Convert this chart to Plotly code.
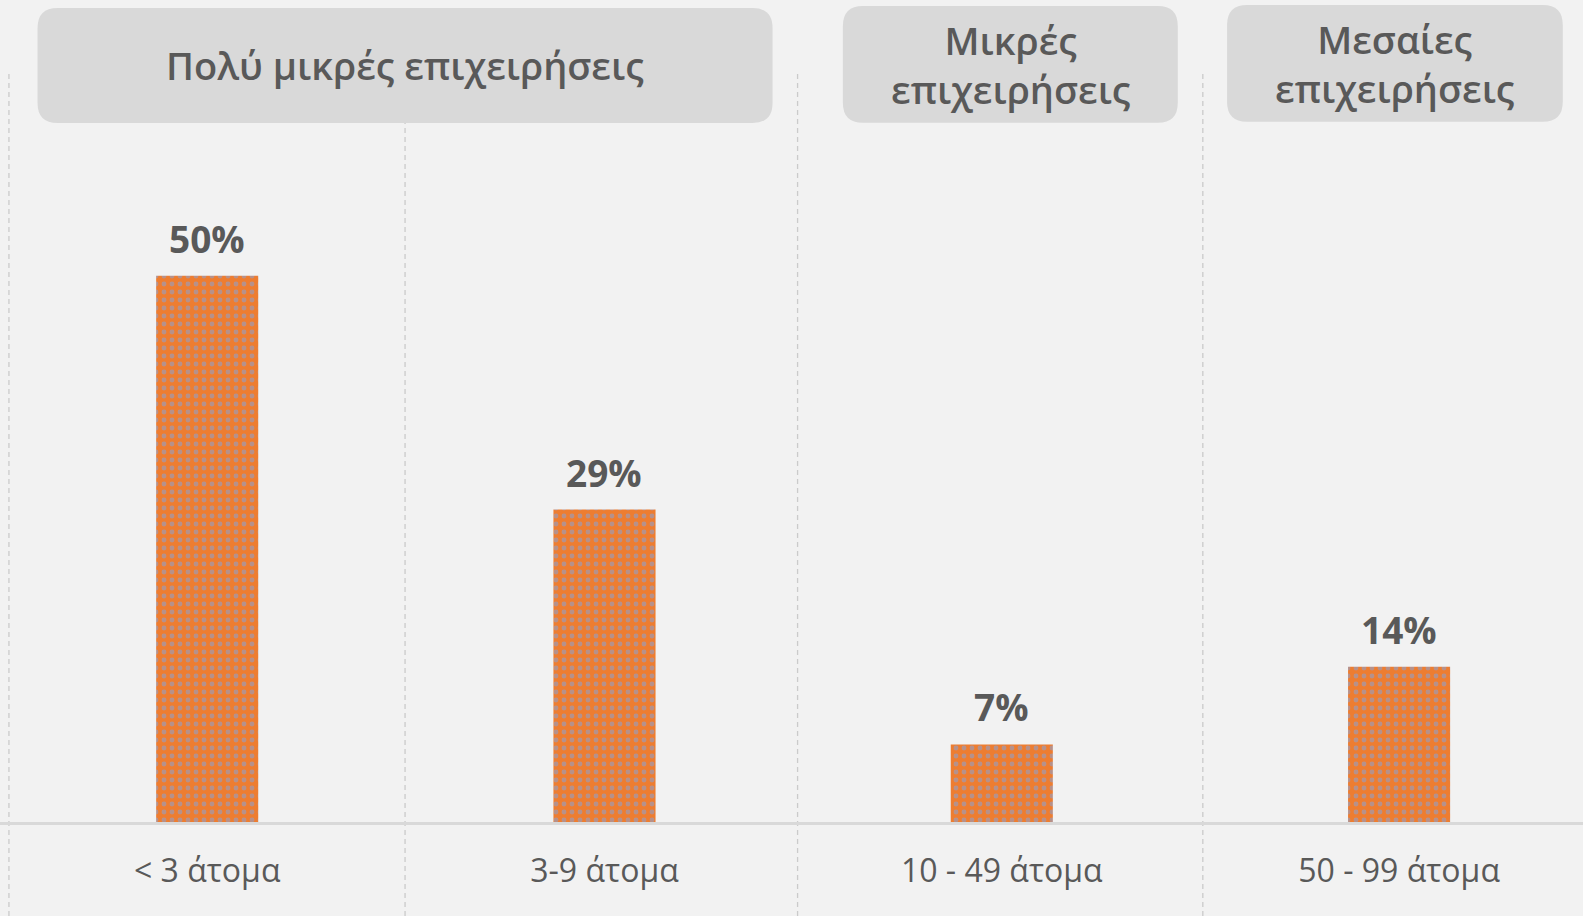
import plotly.graph_objects as go

# ---- data ----
categories = ["< 3 άτομα", "3-9 άτομα", "10 - 49 άτομα", "50 - 99 άτομα"]
shares = [50.0, 28.6, 7.1, 14.2]          # percent
labels = ["50%", "29%", "7%", "14%"]
group_names = ["Πολύ μικρές επιχειρήσεις", "Μικρές<br>επιχειρήσεις", "Μεσαίες<br>επιχειρήσεις"]

# ---- styling ----
BG = "#F2F2F2"
BOX = "#D9D9D9"
TXT = "#595959"
ORANGE = "#ED7D31"
DOTS = "#80A6E6"
FONT = "Open Sans"

W, H = 1583, 916
PLOT_H = 822                    # px from top to baseline
x_range = [-0.5215, 3.4629]
y_max = 75.23

fig = go.Figure()
fig.add_trace(go.Bar(
    x=list(range(len(categories))),
    y=shares,
    width=0.257,
    marker=dict(
        color=ORANGE,
        line=dict(width=0),
        pattern=dict(shape=".", fgcolor=DOTS, bgcolor=ORANGE, size=8, solidity=0.28),
    ),
    hoverinfo="skip",
))

annotations = []
for i, (v, t) in enumerate(zip(shares, labels)):
    annotations.append(dict(
        x=i, y=v, xref="x", yref="y", text=f"<b>{t}</b>", showarrow=False,
        yanchor="bottom", yshift=10,
        font=dict(family=FONT, size=37, color=TXT),
    ))

shapes = []
# dashed separators between categories
for b in [-0.499, 0.498, 1.486, 2.506, 3.5]:
    shapes.append(dict(
        type="line", xref="x", yref="paper", x0=b, x1=b,
        y0=(PLOT_H - H) / PLOT_H, y1=(PLOT_H - 70) / PLOT_H,
        line=dict(color="#CBCBCB", width=1.3, dash="5px,4px"), layer="below",
    ))

# header rounded boxes (x in category units, y in px from top)
boxes = [(-0.427, 1.423, 8, 123), (1.600, 2.443, 6, 122.7), (2.567, 3.412, 5, 121.7)]
xs_per_px = (x_range[1] - x_range[0]) / W
ys_per_px = 1.0 / PLOT_H
R = 20
for (x0, x1, ptop, pbot), name in zip(boxes, group_names):
    y1 = (PLOT_H - ptop) / PLOT_H
    y0 = (PLOT_H - pbot) / PLOT_H
    rx = R * xs_per_px
    ry = R * ys_per_px
    path = (
        f"M {x0 + rx},{y1} L {x1 - rx},{y1} Q {x1},{y1} {x1},{y1 - ry} "
        f"L {x1},{y0 + ry} Q {x1},{y0} {x1 - rx},{y0} "
        f"L {x0 + rx},{y0} Q {x0},{y0} {x0},{y0 + ry} "
        f"L {x0},{y1 - ry} Q {x0},{y1} {x0 + rx},{y1} Z"
    )
    shapes.append(dict(type="path", xref="x", yref="paper", path=path,
                       fillcolor=BOX, line=dict(width=0), layer="above"))
    annotations.append(dict(
        x=(x0 + x1) / 2, y=(y0 + y1) / 2, xref="x", yref="paper",
        text=name, showarrow=False, xanchor="center", yanchor="middle",
        font=dict(family=FONT, size=38, color=TXT, weight=600),
    ))

fig.update_layout(
    width=W, height=H,
    margin=dict(l=0, r=0, t=0, b=H - PLOT_H),
    paper_bgcolor=BG, plot_bgcolor=BG,
    showlegend=False,
    xaxis=dict(
        range=x_range, tickmode="array", tickvals=list(range(len(categories))),
        ticktext=categories, showgrid=False, zeroline=False,
        showline=True, linecolor="#D9D9D9", linewidth=2.5,
        ticks="", ticklabelstandoff=19,
        tickfont=dict(family=FONT, size=32, color=TXT),
        fixedrange=True,
    ),
    yaxis=dict(range=[0, y_max], visible=False, fixedrange=True),
    shapes=shapes,
    annotations=annotations,
)

fig.write_html(
    "out.html",
    config={"displayModeBar": False},
    post_script="document.body.style.margin='0';document.body.style.background='#F2F2F2';",
)
